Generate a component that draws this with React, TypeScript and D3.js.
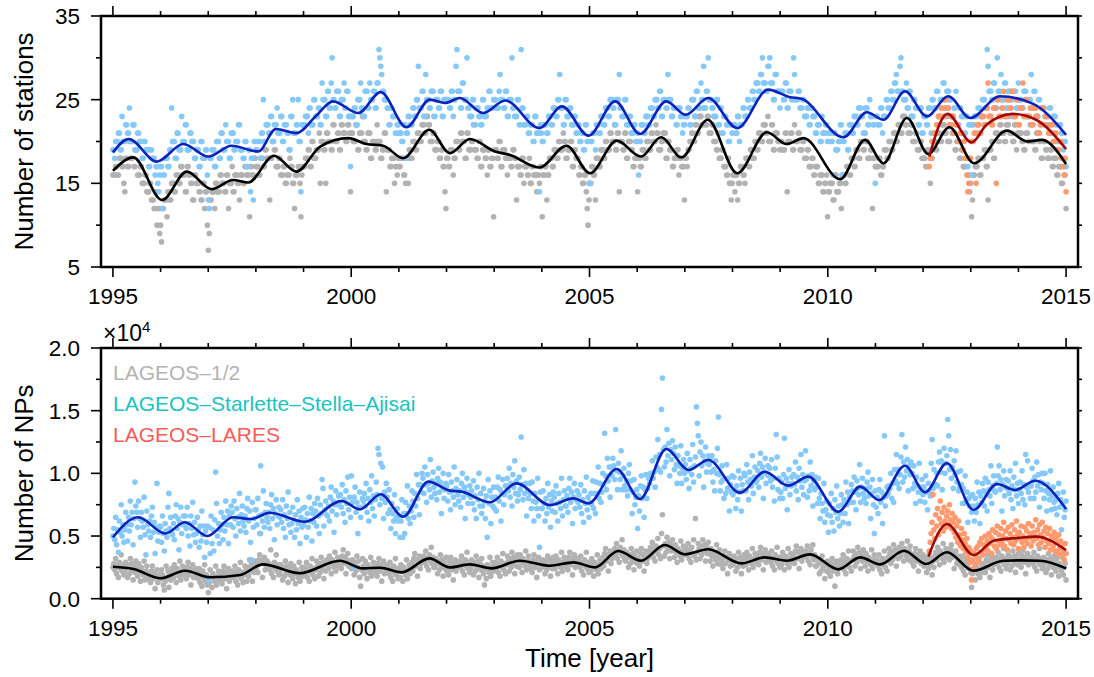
import React, { useEffect, useRef } from 'react';
import * as d3 from 'd3';

// ---------- DATA ----------
// Weekly number of stations, run-length encoded as [stations, number of consecutive weeks]
// LAGEOS-1/2, 1995.0 - 2015.0 (one line per year)
const topLageosRuns: [number, number][] = [
  [16,3],[17,2],[16,2],[18,3],[17,2],[15,1],[14,1],[18,2],[17,2],[20,1],[18,3],[22,1],[17,2],[19,2],[16,3],[17,2],[15,3],[16,2],[14,3],[15,2],[13,3],[12,2],[14,1],[10,1],[12,2],[9,1],
  [10,1],[8,1],[12,2],[13,3],[11,1],[14,2],[13,2],[15,3],[14,2],[16,3],[15,2],[17,2],[16,3],[14,2],[17,2],[16,2],[15,2],[13,2],[16,2],[15,3],[14,2],[13,2],[15,2],[12,1],[14,2],[10,1],
  [7,1],[9,1],[13,2],[14,3],[12,1],[15,2],[14,3],[16,2],[15,3],[14,2],[16,2],[12,1],[15,3],[17,1],[14,2],[16,3],[15,2],[13,1],[16,3],[15,2],[17,2],[16,3],[11,1],[17,2],[16,2],[18,2],
  [17,3],[16,2],[18,3],[17,2],[19,2],[18,3],[13,1],[18,2],[20,2],[19,2],[17,3],[18,2],[16,3],[17,2],[15,2],[16,3],[18,1],[17,2],[15,2],[12,1],[16,3],[17,2],[15,1],[11,1],[16,1],[17,1],
  [17,2],[18,3],[19,2],[17,2],[20,2],[18,3],[19,3],[21,1],[15,1],[20,3],[19,2],[15,1],[21,2],[20,3],[19,2],[22,2],[20,3],[21,2],[19,2],[22,2],[21,3],[20,2],[22,2],[21,1],[14,1],
  [21,2],[20,3],[22,2],[19,2],[21,3],[23,1],[20,3],[19,2],[21,3],[18,2],[20,3],[19,2],[22,1],[20,3],[18,2],[19,2],[21,2],[14,1],[19,3],[17,2],[18,3],[15,1],[17,2],[16,1],[18,1],
  [17,2],[18,3],[16,2],[15,1],[18,2],[15,1],[19,2],[18,2],[20,3],[19,2],[21,3],[20,2],[22,3],[21,2],[23,2],[22,2],[20,3],[21,2],[19,3],[20,2],[18,2],[19,2],[17,2],[14,1],[12,1],
  [18,2],[17,2],[19,3],[16,1],[18,2],[20,3],[19,2],[21,2],[20,3],[18,2],[21,2],[19,3],[20,2],[22,1],[19,3],[18,2],[20,2],[17,2],[19,3],[18,2],[16,1],[19,2],[17,2],[18,2],[11,1],
  [19,3],[18,2],[20,2],[17,2],[19,3],[18,2],[16,1],[18,3],[17,2],[19,2],[18,2],[13,1],[17,3],[16,2],[18,2],[15,1],[17,3],[16,2],[18,1],[15,2],[17,2],[16,3],[14,1],[16,2],[15,1],[17,2],
  [11,1],[16,2],[17,2],[13,1],[16,2],[18,3],[17,2],[19,3],[18,2],[20,2],[19,3],[21,1],[20,2],[18,2],[19,3],[20,2],[17,2],[19,2],[18,3],[16,2],[17,2],[15,2],[16,2],[14,1],[12,1],[10,1],[13,1],
  [15,2],[17,2],[16,2],[13,1],[18,3],[17,2],[19,3],[18,2],[20,2],[19,3],[21,2],[20,3],[22,1],[19,2],[21,2],[14,1],[20,3],[19,2],[21,2],[18,2],[20,3],[19,2],[17,2],[18,3],
  [14,1],[18,2],[17,2],[19,3],[18,2],[20,3],[19,2],[21,2],[20,3],[22,1],[21,2],[19,3],[20,2],[21,3],[18,2],[20,2],[19,3],[17,2],[18,3],[19,2],[16,1],[18,2],[17,3],[13,1],
  [18,2],[17,1],[19,2],[20,2],[21,2],[20,2],[22,2],[21,2],[23,3],[22,2],[24,2],[22,2],[23,2],[21,3],[22,2],[20,3],[19,2],[21,1],[18,3],[19,2],[17,3],[16,2],[18,1],[15,2],[13,1],[15,1],
  [16,2],[14,1],[16,2],[13,1],[15,2],[17,3],[16,2],[15,1],[18,3],[17,2],[19,2],[18,3],[20,2],[19,2],[21,3],[20,2],[22,3],[21,2],[23,1],[20,3],[22,2],[19,2],[21,3],[20,2],[19,1],
  [20,2],[19,3],[21,2],[14,1],[20,3],[21,2],[19,2],[22,1],[20,3],[21,2],[19,3],[20,2],[18,3],[19,2],[17,3],[18,2],[16,2],[17,3],[15,2],[16,3],[14,2],[15,2],[16,1],[11,1],
  [14,2],[15,3],[13,2],[16,2],[14,3],[15,2],[12,1],[16,3],[15,2],[17,3],[16,2],[18,3],[17,2],[19,3],[18,2],[20,3],[19,2],[21,1],[20,2],[18,3],[19,2],[12,1],[18,2],[17,1],
  [17,3],[18,2],[16,2],[17,2],[19,3],[18,2],[20,3],[19,2],[21,3],[20,2],[22,3],[21,2],[23,3],[22,2],[24,1],[21,3],[22,2],[20,3],[21,2],[19,3],[20,2],[18,2],
  [18,2],[17,2],[19,3],[15,1],[18,2],[20,3],[19,2],[21,3],[20,2],[22,3],[21,2],[23,1],[20,3],[22,2],[21,3],[19,2],[20,3],[18,2],[19,2],[17,3],[18,2],[16,2],[14,1],[15,1],
  [11,1],[13,1],[16,2],[17,3],[18,2],[16,2],[18,3],[19,2],[17,2],[13,1],[19,3],[20,2],[18,2],[21,3],[20,2],[22,2],[21,3],[20,2],[22,3],[23,1],[21,3],[20,2],[22,2],[19,1],[21,2],
  [21,3],[20,2],[19,2],[21,3],[20,2],[22,2],[20,3],[19,2],[21,3],[20,2],[18,2],[20,3],[19,2],[18,3],[19,2],[17,2],[18,3],[16,2],[17,3],[15,2],[17,1],[16,2],[12,1],
];

// LAGEOS-Starlette-Stella-Ajisai, 1995.0 - 2015.0
const topLssaRuns: [number, number][] = [
  [19,2],[18,1],[20,3],[21,2],[19,2],[23,1],[20,3],[22,2],[21,2],[24,1],[20,3],[22,2],[19,3],[21,2],[20,3],[18,2],[20,2],[19,3],[17,2],[19,2],[18,3],[16,1],[17,2],[15,1],[14,1],[16,1],
  [17,2],[12,1],[16,2],[18,3],[17,2],[19,2],[24,1],[20,3],[18,2],[21,2],[19,3],[23,1],[20,3],[22,2],[19,3],[21,2],[20,3],[18,2],[19,3],[17,2],[20,2],[18,3],[19,2],[16,1],
  [13,1],[12,1],[18,2],[19,3],[17,2],[20,3],[18,2],[21,2],[19,3],[22,1],[20,3],[18,2],[21,3],[19,2],[20,3],[22,2],[19,3],[18,2],[20,2],[17,2],[19,2],[14,1],[18,2],[13,1],[20,2],
  [19,2],[20,3],[18,1],[21,2],[25,1],[20,2],[22,3],[21,2],[23,2],[20,2],[22,3],[24,1],[21,3],[23,2],[20,2],[22,3],[21,2],[19,2],[23,2],[25,1],[21,3],[22,2],[25,1],[20,2],[14,1],[22,2],
  [22,2],[23,3],[21,1],[24,2],[22,3],[25,2],[23,3],[24,2],[22,2],[27,1],[25,3],[23,2],[26,2],[24,2],[27,1],[30,1],[25,2],[24,2],[26,3],[23,2],[25,3],[27,1],[24,2],[26,2],[23,2],[17,1],
  [23,3],[24,2],[22,2],[25,3],[27,1],[24,2],[23,2],[26,3],[24,2],[27,1],[25,3],[26,2],[24,2],[27,2],[31,1],[30,1],[29,1],[28,1],[26,2],[25,3],[24,2],[22,2],[24,2],[23,3],[21,2],[22,2],
  [21,3],[20,2],[22,2],[18,1],[21,2],[23,2],[22,3],[24,2],[23,2],[25,2],[29,1],[24,3],[26,2],[23,2],[28,1],[25,3],[24,2],[26,3],[23,2],[25,3],[24,2],[26,2],[23,2],[25,3],
  [25,3],[24,2],[26,2],[23,1],[25,2],[29,1],[31,1],[26,3],[24,2],[27,2],[25,3],[30,1],[24,2],[23,3],[25,2],[22,2],[24,3],[23,2],[22,2],[25,2],[23,3],[24,2],[26,2],[24,3],[25,1],
  [25,2],[24,3],[26,1],[28,1],[25,3],[24,2],[26,2],[23,2],[25,3],[30,1],[24,2],[23,3],[25,2],[22,2],[31,1],[24,2],[22,3],[23,2],[21,2],[22,3],[20,2],[23,2],[21,3],[14,1],[22,1],[21,1],
  [20,2],[22,3],[21,2],[23,3],[22,2],[24,3],[23,2],[25,2],[28,1],[24,3],[22,2],[25,2],[23,3],[24,2],[22,3],[23,2],[21,2],[22,2],[20,2],[21,2],[19,2],[22,2],[20,2],[15,1],
  [15,1],[20,2],[21,3],[19,1],[22,3],[21,2],[23,3],[22,2],[24,3],[23,2],[25,3],[24,2],[22,2],[25,3],[28,1],[24,2],[23,3],[25,2],[22,3],[23,2],[21,3],[22,2],[20,2],
  [21,1],[16,1],[20,2],[22,3],[21,2],[23,3],[22,2],[24,3],[23,2],[25,3],[24,2],[26,2],[23,2],[25,3],[24,2],[28,1],[25,3],[23,2],[24,3],[22,2],[24,3],[23,2],[21,1],[22,2],
  [23,3],[24,2],[22,2],[25,3],[23,2],[26,2],[24,3],[27,1],[25,2],[29,1],[24,2],[26,2],[30,1],[25,3],[24,2],[23,3],[25,2],[22,2],[24,2],[21,2],[23,3],[22,2],[20,2],[22,2],[21,1],
  [22,3],[21,2],[23,2],[20,1],[22,3],[24,2],[23,3],[25,2],[24,3],[26,2],[25,2],[27,3],[26,2],[28,2],[30,1],[27,3],[26,2],[29,2],[30,1],[27,3],[25,2],[28,2],[26,3],[24,1],
  [26,3],[25,2],[27,2],[24,2],[26,3],[25,2],[30,1],[28,1],[25,3],[26,2],[24,3],[25,2],[23,3],[24,2],[22,2],[24,2],[23,3],[21,2],[22,3],[20,2],[23,1],[21,3],[22,2],[20,1],
  [21,3],[20,2],[16,1],[21,2],[19,3],[20,2],[22,2],[16,1],[20,2],[21,3],[19,2],[22,3],[21,2],[23,3],[22,2],[24,3],[23,2],[21,2],[24,3],[22,2],[25,1],[23,3],[22,2],[15,1],
  [23,2],[22,3],[24,2],[21,1],[23,3],[25,2],[24,3],[26,2],[25,2],[27,2],[28,1],[26,3],[29,1],[30,1],[26,2],[25,3],[27,1],[24,2],[26,2],[23,3],[25,2],[24,3],[22,2],[24,2],[21,2],
  [23,3],[22,2],[24,3],[21,1],[25,2],[24,3],[26,2],[23,2],[25,3],[27,2],[24,2],[26,3],[25,2],[23,3],[24,2],[26,1],[22,3],[24,2],[23,3],[21,2],[23,2],[17,1],[22,3],
  [16,1],[22,2],[23,3],[21,1],[24,3],[23,2],[25,3],[24,2],[31,1],[29,1],[26,3],[25,2],[27,2],[24,2],[30,1],[26,3],[28,1],[25,3],[27,2],[24,2],[26,3],[25,2],[23,1],[26,3],[24,2],[27,1],
  [25,3],[24,2],[26,3],[23,2],[25,3],[28,1],[24,2],[26,2],[23,3],[25,2],[22,2],[24,3],[23,2],[22,3],[24,2],[21,2],[23,3],[22,2],[20,2],[22,2],[21,2],[19,1],[20,2],[17,1],
];

// LAGEOS-LARES, 2012.13 - 2015.0
const topLaresRuns: [number, number][] = [
  [17,1],[18,2],[20,2],[21,3],[22,2],[23,3],[24,2],[23,2],[25,2],[24,3],[22,2],[23,3],[21,2],[22,3],[20,2],[21,2],[19,2],[20,1],[18,2],[16,1],[14,1],[15,1],
  [18,2],[20,3],[21,2],[15,1],[22,3],[21,2],[23,3],[22,2],[24,2],[27,1],[23,3],[22,2],[24,3],[15,1],[25,2],[23,3],[24,2],[26,1],[23,3],[25,3],[24,2],[26,2],
  [23,3],[25,2],[22,2],[24,3],[27,1],[23,2],[25,2],[23,3],[24,2],[22,2],[24,3],[23,2],[21,2],[22,1],[24,3],[22,2],[23,3],[21,2],[22,3],[20,2],[21,2],[19,3],
  [20,2],[18,2],[17,1],[16,1],[18,1],[14,1],
];

// Weekly number of normal points (in hundreds), LAGEOS-1/2, 1995.0 - 2015.0
const npLageos: number[] = [
  25,28,23,32,20,26,17,29,24,35,22,27,19, 22,29,25,17,27,20,32,23,28,15,26,21,30,
  24,18,28,22,14,25,22,19,30,15,22,26,19, 16,20,13,22,26,16,20,8,18,23,13,17,19,
  16,23,19,11,7,14,26,17,22,9,20,15,24, 23,17,27,21,13,24,21,18,30,15,22,26,19,
  19,23,16,25,29,19,24,11,22,27,17,21,24, 19,21,16,24,13,19,10,22,17,27,14,19,11,
  5,13,23,17,9,20,17,14,26,11,18,22,15, 15,19,12,22,26,16,21,8,19,24,14,18,21,
  19,22,17,26,14,20,11,23,18,29,16,21,13, 19,26,22,14,25,18,31,22,27,14,26,21,30,
  24,28,21,31,35,52,30,17,28,33,23,27,30, 25,28,23,39,20,26,17,29,24,35,22,27,19,
  20,27,24,15,25,18,30,21,26,13,24,19,28, 22,16,26,20,12,23,20,17,29,14,21,25,18,
  22,25,20,29,17,23,14,26,21,32,19,24,16, 23,30,26,18,28,21,33,24,29,16,27,22,31,
  30,24,34,28,20,31,28,25,37,22,29,33,26, 27,31,24,34,39,28,33,20,31,36,26,30,29,
  24,31,27,19,29,22,34,25,30,17,10,23,32, 26,20,30,24,16,27,24,21,33,18,25,29,22,
  21,25,18,28,32,22,27,14,25,30,20,24,27, 22,25,20,29,17,23,14,26,21,32,19,24,16,
  23,17,27,22,14,25,22,19,31,16,23,27,20, 25,29,22,32,36,26,31,18,29,34,24,28,31,
  31,34,29,38,26,32,23,35,30,41,28,33,25, 25,32,28,20,30,23,35,26,31,18,29,24,33,
  22,26,19,30,33,23,28,15,26,31,22,25,29, 27,30,25,34,22,28,19,31,26,37,24,29,21,
  24,31,27,19,29,22,34,25,30,17,28,23,32, 26,20,11,24,16,27,24,21,33,18,25,29,22,
  26,29,24,33,21,27,18,30,25,36,23,28,20, 27,34,30,22,32,25,37,28,33,20,31,26,35,
  31,25,35,29,21,32,29,26,38,23,30,34,27, 24,28,21,31,35,25,30,17,28,33,23,27,30,
  25,31,28,20,30,23,34,26,31,18,29,24,33, 30,24,34,28,20,31,28,25,37,22,29,33,26,
  26,30,23,33,37,27,32,19,30,35,25,29,32, 27,30,25,34,22,28,19,31,26,37,24,29,21,
  28,22,32,26,18,29,26,23,35,20,27,31,24, 29,33,26,36,40,30,35,22,33,38,28,32,35,
  37,40,35,44,32,38,29,41,36,47,34,39,31, 30,37,33,25,35,28,40,31,36,23,34,29,38,
  28,32,26,36,40,30,35,22,33,38,28,32,35, 38,41,36,45,33,39,30,42,37,48,35,40,32,
  52,67,42,34,44,37,49,40,45,32,43,38,47, 39,33,43,37,29,40,37,34,46,31,38,42,35,
  37,40,35,44,32,38,29,41,36,47,34,64,31, 37,44,40,32,42,35,47,38,43,30,41,36,45,
  36,30,40,34,26,37,34,31,43,28,35,39,32, 27,31,24,34,38,28,33,20,31,36,26,30,33,
  27,34,30,22,32,25,37,28,33,20,31,26,35, 33,27,37,31,23,34,31,28,40,25,32,36,29,
  30,34,27,37,41,31,36,23,34,39,29,33,36, 31,34,29,38,26,32,23,35,30,41,28,33,25,
  33,27,37,31,23,34,31,28,40,25,32,36,29, 31,35,28,38,42,32,37,24,35,40,30,34,37,
  35,38,33,42,30,36,27,39,34,43,31,35,26, 26,32,28,20,29,22,34,25,29,16,27,22,30,
  21,25,18,28,32,22,27,10,25,30,20,24,27, 28,31,26,35,23,29,20,32,27,38,25,30,22,
  31,38,34,26,36,29,41,32,37,24,35,30,39, 32,26,36,30,22,33,30,27,39,24,31,35,28,
  28,31,26,35,23,29,20,32,27,38,25,30,22, 33,40,36,28,38,31,43,34,39,26,37,32,41,
  40,34,44,38,30,40,37,34,46,31,38,42,35, 29,33,26,36,40,30,35,22,33,38,28,32,35,
  26,33,29,21,31,24,36,27,32,19,30,25,34, 37,31,41,35,27,38,35,32,44,29,36,40,33,
  34,38,31,40,43,33,37,24,34,38,28,31,34, 27,30,25,34,22,28,19,31,26,37,24,29,21,
  9,20,29,23,15,26,23,20,32,17,24,28,21, 24,28,21,31,35,25,30,17,28,33,23,27,30,
  30,33,28,37,25,31,22,34,29,40,27,32,24, 28,35,31,23,33,26,38,29,34,21,32,27,36,
  27,31,25,34,38,29,33,20,31,36,27,30,33, 30,33,28,37,25,31,22,34,29,40,27,32,24,
  26,33,29,21,31,24,36,27,32,19,30,25,34, 28,22,32,26,18,28,25,22,33,19,25,28,15,
];

// Weekly number of normal points (in hundreds), LAGEOS-Starlette-Stella-Ajisai
const npLssa: number[] = [
  50,56,47,65,43,55,37,62,53,75,50,59,45, 55,69,59,46,65,54,78,59,69,43,64,93,74,
  69,57,78,64,49,69,62,57,81,51,35,70,59, 54,62,49,66,73,53,61,36,57,92,46,53,58,
  57,45,66,52,38,60,54,49,73,84,56,65,53, 51,60,47,66,75,56,64,39,61,73,52,59,66,
  60,66,56,73,50,60,42,66,56,77,51,61,45, 52,65,55,41,58,46,70,51,58,33,54,45,58,
  15,57,36,66,44,55,38,63,101,76,50,60,44, 55,69,59,47,65,54,78,59,70,44,66,59,74,
  69,57,78,64,50,72,65,60,84,54,67,74,62, 58,66,53,72,80,62,70,45,31,77,57,64,71,
  71,59,80,66,52,106,67,62,86,57,69,76,65, 61,69,56,75,83,64,72,47,68,79,59,66,73,
  65,71,61,79,56,67,49,74,64,85,59,69,53, 60,73,63,49,67,55,79,60,70,44,65,57,72,
  59,73,63,49,68,57,81,62,72,46,68,61,76, 70,58,80,66,52,75,68,95,88,58,71,78,67,
  66,74,62,81,89,70,78,53,75,86,67,75,82, 77,83,73,91,68,79,61,86,76,97,71,81,65,
  98,77,25,81,89,69,77,52,73,85,65,73,80, 78,84,74,92,69,80,62,87,77,98,72,82,66,
  79,93,83,120,115,75,108,80,105,64,85,77,92, 81,68,87,71,56,76,68,62,83,52,65,72,62,
  66,49,62,79,49,68,52,77,68,90,64,74,60, 70,86,78,65,84,74,99,80,91,67,91,85,100,
  96,84,105,91,77,99,92,87,111,81,94,101,89, 84,92,79,96,104,85,93,68,89,100,80,87,92,
  90,78,99,85,71,93,86,81,105,75,88,95,83, 78,86,73,92,100,81,89,64,85,96,76,83,90,
  81,86,76,94,71,82,64,89,79,100,74,84,68, 74,88,78,64,82,49,95,76,86,60,81,74,89,
  72,81,70,89,97,78,87,62,84,95,75,83,90, 90,96,86,104,81,92,74,99,89,110,84,94,78,
  83,97,87,129,91,79,103,84,92,66,86,80,92, 84,72,93,78,62,84,77,72,96,66,41,85,72,
  72,86,76,62,80,68,92,73,83,57,78,70,85, 81,69,90,76,62,84,77,72,96,66,79,86,74,
  74,82,69,88,96,77,85,60,81,92,72,79,86, 77,83,73,91,68,79,61,86,76,97,71,81,65,
  77,84,75,94,72,84,68,93,84,105,80,92,77, 85,100,91,132,98,87,112,94,105,81,105,98,112,
  106,95,135,102,87,108,101,95,118,87,98,104,90, 87,94,82,100,107,87,94,68,85,95,75,81,87,
  56,82,70,90,98,80,89,65,87,99,80,88,96, 92,100,98,110,96,101,89,113,105,127,103,115,101,
  151,176,119,105,121,109,135,114,124,98,119,111,126, 116,103,121,107,92,114,106,100,122,92,104,111,100,
  107,95,116,102,88,111,104,99,123,93,106,113,153, 140,130,98,117,125,106,114,89,110,121,101,108,114,
  107,112,101,114,93,103,86,110,100,120,145,99,86, 93,106,95,80,96,84,107,88,96,70,91,85,98,
  83,97,86,72,90,79,102,85,96,70,91,86,100, 98,86,107,93,79,101,95,90,114,84,97,105,93,
  94,102,89,108,116,97,105,80,101,112,92,99,106, 98,104,94,111,89,96,78,104,131,113,87,96,80,
  85,93,80,99,128,88,96,71,92,103,83,90,97, 92,99,91,109,86,97,79,104,94,115,89,99,83,
  94,118,95,81,98,86,109,90,99,74,94,87,97, 89,76,96,80,64,84,76,70,92,61,71,78,67,
  53,76,66,84,61,72,54,79,69,90,64,74,58, 68,83,75,61,79,68,93,75,85,60,81,77,91,
  86,77,97,85,71,94,88,83,107,77,89,96,84, 80,88,76,93,101,82,89,64,84,95,75,52,86,
  73,81,68,87,95,77,85,60,81,130,74,82,89, 84,90,88,100,80,92,77,103,94,115,92,103,88,
  99,113,131,93,109,97,121,102,111,86,106,99,109, 100,88,106,92,76,97,90,85,108,78,89,95,83,
  89,77,98,85,71,92,86,82,108,127,88,103,91, 91,100,90,109,117,101,110,87,108,120,100,108,114,
  143,130,103,119,96,105,88,110,99,118,93,101,86, 89,102,91,76,88,76,98,78,85,61,80,74,82,
  69,83,74,62,80,69,93,75,85,60,82,77,92, 86,74,96,84,70,93,87,82,106,76,90,98,86,
  85,92,121,98,106,87,95,70,91,102,82,89,95, 88,94,84,102,79,90,72,97,87,108,82,92,76,
  87,93,84,102,79,91,75,115,89,110,85,90,80, 90,104,94,80,97,85,109,90,99,73,93,87,100,
  92,80,100,86,70,91,84,79,102,71,82,89,77, 72,79,67,84,92,73,79,55,76,85,65,71,78,
];

// Weekly number of normal points (in hundreds), LAGEOS-LARES (2012.13 - 2015.0)
const npLares: number[] = [
  38,45,52,61,83,55,48,67,58,72,51,64,78, 60,69,54,73,62,57,66,70,59,75,63,56,68,
  61,53,65,49,58,45,62,51,42,56,47,40,52, 44,37,48,33,41,29,38,15,31,24,36,27,40,
  33,42,30,45,37,48,35,43,39,50,41,46,38, 52,44,49,36,55,47,42,53,40,58,46,51,43,
  56,45,50,61,42,54,48,39,57,47,52,44,59, 49,43,55,46,62,51,40,53,48,58,45,50,41,
  57,47,54,44,60,49,52,42,58,46,53,50,63, 48,55,43,59,51,45,61,49,54,41,57,46,52,
  44,56,39,50,47,42,53,38,49,45,36,51,40, 46,35,43,38,31,44,36,
];

// Smoothed curves: [year, value]
const topLageosFit: [number, number][] = [
  [1995.0,16.5],[1995.43,18.1],[1996.03,13.0],[1996.55,16.4],[1997.07,14.3],[1997.52,15.4],[1997.84,15.1],
  [1998.38,18.3],[1998.85,16.4],[1999.35,19.4],[1999.94,20.4],[2000.32,19.7],[2000.67,19.5],[2001.09,18.0],
  [2001.64,21.4],[2002.07,18.6],[2002.49,20.3],[2003.02,18.8],[2003.33,18.4],[2003.95,16.9],[2004.52,19.5],
  [2005.01,16.2],[2005.57,20.1],[2006.08,18.2],[2006.5,20.5],[2006.93,18.1],[2007.48,22.6],[2008.1,16.2],
  [2008.72,21.1],[2009.14,19.7],[2009.49,20.4],[2010.26,15.5],[2010.78,20.2],[2011.17,17.4],[2011.66,22.8],
  [2012.11,18.5],[2012.55,21.7],[2013.07,17.4],[2013.76,21.3],[2014.18,20.0],[2014.49,20.2],[2015.0,17.3],
];
const topLssaFit: [number, number][] = [
  [1995.0,18.7],[1995.33,20.3],[1995.92,17.6],[1996.48,19.7],[1997.0,18.2],[1997.49,19.5],[1998.05,18.8],
  [1998.42,21.5],[1998.85,21.0],[1999.25,23.0],[1999.62,24.8],[2000.15,23.4],[2000.62,25.9],[2001.16,21.7],
  [2001.65,25.0],[2001.97,24.6],[2002.28,25.2],[2002.77,23.4],[2003.23,24.9],[2003.95,21.6],[2004.42,24.2],
  [2004.98,20.7],[2005.54,24.8],[2006.06,20.9],[2006.61,24.8],[2007.02,23.2],[2007.49,25.2],[2008.1,21.6],
  [2008.75,26.2],[2009.21,25.3],[2009.45,25.1],[2010.33,20.5],[2010.82,23.5],[2011.17,22.6],[2011.62,26.0],
  [2012.08,23.0],[2012.53,25.4],[2012.99,22.8],[2013.61,25.4],[2014.31,24.5],[2015.0,20.8],
];
const topLaresFit: [number, number][] = [
  [2012.13,18.2],[2012.51,23.3],[2013.02,19.9],[2013.33,22.0],[2013.88,23.3],[2014.37,22.6],[2015.0,19.1],
];
const npLageosFit: [number, number][] = [
  [1995.0,25.5],[1995.43,23.7],[1996.0,16.3],[1996.51,22.3],[1997.04,17.1],[1997.67,18.9],[1998.15,27.4],
  [1998.92,20.3],[1999.76,30.3],[2000.25,24.2],[2000.6,24.7],[2001.06,21],[2001.64,32.2],[2002.07,25],
  [2002.49,27.4],[2002.94,24.2],[2003.54,30.3],[2004.17,26.3],[2004.66,29],[2005.12,25],[2005.6,38],
  [2006.08,30.3],[2006.58,42.8],[2007.0,35.4],[2007.49,39.4],[2008.19,28.2],[2008.68,33],[2009.14,30.3],
  [2009.63,35.4],[2010.22,23.4],[2010.68,33],[2011.1,27.4],[2011.6,38.3],[2012.06,27.7],[2012.5,37],
  [2013.06,22.3],[2013.68,30.3],[2014.05,30.6],[2014.45,30.3],[2015.0,24.2],
];
const npLssaFit: [number, number][] = [
  [1995.0,49],[1995.53,65],[1996.1,52],[1996.51,61],[1996.98,50],[1997.52,65],[1997.9,63.6],[1998.29,68.6],
  [1999.03,61.4],[1999.8,78],[2000.18,71.3],[2000.62,83.3],[2001.09,65.4],[2001.62,93.4],[2002.07,86.2],
  [2002.31,85.4],[2002.91,76.9],[2003.47,92],[2004.17,74.7],[2004.66,80],[2004.98,76],[2005.57,103.5],
  [2006.06,79.5],[2006.61,119.4],[2007.08,102.7],[2007.49,110.6],[2008.16,84.6],[2008.68,101.3],[2009.17,90.2],
  [2009.59,97.4],[2010.22,69.4],[2010.68,89.4],[2011.08,78.7],[2011.62,106.1],[2012.04,84.9],[2012.5,108],
  [2013.06,70.8],[2013.55,91.5],[2013.93,86.7],[2014.35,94.1],[2015.0,71.6],
];
const npLaresFit: [number, number][] = [
  [2012.11,33.5],[2012.5,59.6],[2013.06,34.8],[2013.48,46.3],[2014.0,48.5],[2014.37,49.5],[2015.0,38.8],
];

const yearMajor = [1995, 2000, 2005, 2010, 2015];
const yearMinor = d3.range(1995, 2016);
const topMajor = [5, 15, 25, 35];
const topMinor = [10, 20, 30];
const npMajor = [0, 50, 100, 150, 200];
const npMinor = [25, 75, 125, 175];
const legendLabels = ['LAGEOS\u20131/2', 'LAGEOS\u2013Starlette\u2013Stella\u2013Ajisai', 'LAGEOS\u2013LARES'];

// ---------- STYLE ----------
const FONT = "'Liberation Sans', Arial, Helvetica, sans-serif";
const C_GRAY = '#b2b2b2';
const C_BLUE = '#85c8fa';
const C_ORANGE = '#ff9a6e';
const L_BLACK = '#000000';
const L_BLUE = '#0c22b8';
const L_RED = '#9e0a0a';
const LEG_COLORS = ['#b3b3b3', '#19c3c0', '#f55c5a'];

const W = 1094, H = 677;
const LEFT = 101, RIGHT = 1078;

const expandRuns = (runs: [number, number][]) =>
  runs.flatMap(([v, n]) => Array.from({ length: n }, () => v));

export default function App() {
  const ref = useRef<SVGSVGElement>(null);
  useEffect(() => {
    const svg = d3.select(ref.current!);
    svg.selectAll('*').remove();
    const x = d3.scaleLinear().domain([1994.75, 2015.25]).range([LEFT, RIGHT]);

    const weekly = (vals: number[], t0: number, t1: number) =>
      vals.map((v, i) => [t0 + (i * (t1 - t0)) / (vals.length - 1), v] as [number, number]);

    const panels = [
      {
        top: 16, bottom: 267, domain: [5, 35], major: topMajor, minor: topMinor,
        fmt: (d: number) => String(d), title: 'Number of stations',
        dots: [
          { data: weekly(expandRuns(topLageosRuns), 1995, 2015), color: C_GRAY },
          { data: weekly(expandRuns(topLssaRuns), 1995, 2015), color: C_BLUE },
          { data: weekly(expandRuns(topLaresRuns), 2012.13, 2015), color: C_ORANGE },
        ],
        lines: [
          { data: topLageosFit, color: L_BLACK },
          { data: topLssaFit, color: L_BLUE },
          { data: topLaresFit, color: L_RED },
        ],
      },
      {
        top: 348, bottom: 598.7, domain: [0, 200], major: npMajor, minor: npMinor,
        fmt: (d: number) => (d / 100).toFixed(1), title: 'Number of NPs',
        dots: [
          { data: weekly(npLageos, 1995, 2015), color: C_GRAY },
          { data: weekly(npLssa, 1995, 2015), color: C_BLUE },
          { data: weekly(npLares, 2012.13, 2015), color: C_ORANGE },
        ],
        lines: [
          { data: npLageosFit, color: L_BLACK },
          { data: npLssaFit, color: L_BLUE },
          { data: npLaresFit, color: L_RED },
        ],
      },
    ];

    panels.forEach((p) => {
      const y = d3.scaleLinear().domain(p.domain).range([p.bottom, p.top]);
      const g = svg.append('g');
      p.dots.forEach((s) => {
        g.append('g').selectAll('circle').data(s.data).join('circle')
          .attr('cx', (d) => x(d[0])).attr('cy', (d) => y(d[1])).attr('r', 2.8)
          .attr('fill', s.color);
      });
      const line = d3.line<[number, number]>().x((d) => x(d[0])).y((d) => y(d[1])).curve(d3.curveMonotoneX);
      p.lines.forEach((l) => {
        g.append('path').attr('d', line(l.data)!).attr('fill', 'none')
          .attr('stroke', l.color).attr('stroke-width', 2.6).attr('stroke-linejoin', 'round');
      });
      // frame
      g.append('rect').attr('x', LEFT).attr('y', p.top).attr('width', RIGHT - LEFT).attr('height', p.bottom - p.top)
        .attr('fill', 'none').attr('stroke', '#000').attr('stroke-width', 2.5);
      const tick = (x1: number, y1: number, x2: number, y2: number) =>
        g.append('line').attr('x1', x1).attr('y1', y1).attr('x2', x2).attr('y2', y2)
          .attr('stroke', '#000').attr('stroke-width', 1.6);
      // x ticks (top & bottom, outward)
      yearMinor.forEach((yr) => {
        const len = yearMajor.includes(yr) ? 10 : 5;
        tick(x(yr), p.bottom, x(yr), p.bottom + len);
        tick(x(yr), p.top, x(yr), p.top - len);
      });
      yearMajor.forEach((yr) => {
        g.append('text').attr('x', x(yr)).attr('y', p.bottom + 37).attr('text-anchor', 'middle')
          .attr('font-family', FONT).attr('font-size', 22.5).attr('fill', '#000').text(String(yr));
      });
      // y ticks
      p.major.forEach((v) => {
        tick(LEFT - 10, y(v), LEFT, y(v));
        tick(RIGHT, y(v), RIGHT + 4, y(v));
        g.append('text').attr('x', 80).attr('y', y(v)).attr('dy', '0.35em').attr('text-anchor', 'end')
          .attr('font-family', FONT).attr('font-size', 22.5).attr('fill', '#000').text(p.fmt(v));
      });
      p.minor.forEach((v) => {
        tick(LEFT - 5, y(v), LEFT, y(v));
        tick(RIGHT, y(v), RIGHT + 4, y(v));
      });
      g.append('text').attr('transform', `translate(33,${(p.top + p.bottom) / 2}) rotate(-90)`)
        .attr('text-anchor', 'middle').attr('font-family', FONT).attr('font-size', 26).attr('fill', '#000')
        .text(p.title);
    });

    // x10^4 multiplier
    const m = svg.append('text').attr('x', 103).attr('y', 340.5).attr('font-family', FONT)
      .attr('font-size', 23).attr('fill', '#000');
    m.append('tspan').text('\u00d710');
    m.append('tspan').attr('font-size', 15).attr('dy', -9).text('4');

    // legend
    legendLabels.forEach((lab, i) => {
      svg.append('text').attr('x', 113).attr('y', 380 + i * 30.9).attr('font-family', FONT)
        .attr('font-size', 21).attr('fill', LEG_COLORS[i]).text(lab);
    });

    // x title
    svg.append('text').attr('x', (LEFT + RIGHT) / 2).attr('y', 666.5).attr('text-anchor', 'middle')
      .attr('font-family', FONT).attr('font-size', 26).attr('fill', '#000').text('Time [year]');
  }, []);
  return (
    <svg ref={ref} width={W} height={H}
      style={{ position: 'absolute', left: 0, top: 0, background: '#fff', display: 'block' }} />
  );
}
